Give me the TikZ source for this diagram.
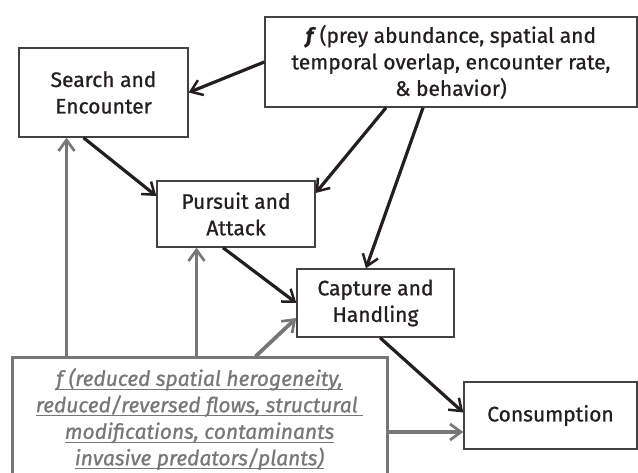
\documentclass[tikz,border=0pt]{standalone}
\usepackage{fontspec}
\setmainfont{Fira Sans}[FakeBold=0.9]
\usetikzlibrary{arrows.meta}

\definecolor{inkdark}{HTML}{231F20}
\definecolor{linegray}{HTML}{777777}

\newsavebox\ulinebox
\newcommand\underlined[1]{\sbox\ulinebox{#1}\rlap{\rule[-4pt]{\wd\ulinebox}{1.3pt}}\usebox\ulinebox}

\begin{document}
\begin{tikzpicture}[x=1pt,y=-1pt,
    box/.style={draw=inkdark!85,line width=1.4pt,align=center,text=inkdark,
      font=\fontsize{21}{26.5}\selectfont,inner sep=0pt},
    blackarrow/.style={draw=inkdark,line width=3.2pt,
      -{Straight Barb[length=11pt,width=16pt,line width=2.5pt]}},
    grayarrow/.style={draw=linegray,line width=3.8pt,
      -{Straight Barb[length=11pt,width=16pt,line width=2.7pt]}}]
  \clip (0,0) rectangle (638,473);
  % boxes
  \node[box,minimum width=169pt,minimum height=89pt] (search) at (103.5,92.5)
    {Search and\\Encounter};
  \node[box,minimum width=372pt,minimum height=90pt] (fprey) at (451,62)
    {\textbf{\textit{f}}\,(prey abundance, spatial and\\temporal overlap, encounter rate,\\\& behavior)};
  \node[box,minimum width=158pt,minimum height=66pt] (pursuit) at (236,214)
    {Pursuit and\\Attack};
  \node[box,minimum width=157pt,minimum height=68pt] (capture) at (375.5,303)
    {Capture and\\Handling};
  \node[box,minimum width=173pt,minimum height=67pt] (consume) at (550.5,415.5)
    {Consumption};
  \node[box,draw=linegray,line width=3pt,text=linegray,
    minimum width=375pt,minimum height=122pt] (habitat) at (199.5,419)
    {\itshape\underlined{f (reduced spatial herogeneity,}\\
     \itshape\underlined{reduced/reversed flows, structural\ }\\
     \itshape\underlined{modifications, contaminants}\\
     \itshape\underlined{invasive predators/plants)}};
  % black connectors
  \draw[blackarrow] (fprey.west) -- (search.east);
  \draw[blackarrow] ([xshift=-20pt]search.south) -- ([yshift=18pt]pursuit.west);
  \draw[blackarrow] ([xshift=-65pt]fprey.south) -- ([yshift=21pt]pursuit.east);
  \draw[blackarrow] ([xshift=-28pt]fprey.south) -- ([xshift=-9.5pt]capture.north);
  \draw[blackarrow] ([xshift=-13pt]pursuit.south) -- (capture.west);
  \draw[blackarrow] ([xshift=4.5pt]capture.south) -- ([yshift=3pt]consume.west);
  % gray connectors
  \coordinate (h1) at ([xshift=56pt]habitat.north west);
  \coordinate (h2) at ([xshift=186pt]habitat.north west);
  \coordinate (h3) at ([xshift=245pt]habitat.north west);
  \coordinate (h4) at ([yshift=-13pt]habitat.east);
  \draw[grayarrow] (h1) -- (h1 |- search.south);
  \draw[grayarrow] (h2) -- (h2 |- pursuit.south);
  \draw[grayarrow] (h3) -- ([yshift=-15pt]capture.west);
  \draw[grayarrow] (h4) -- (h4 -| consume.west);
\end{tikzpicture}
\end{document}
